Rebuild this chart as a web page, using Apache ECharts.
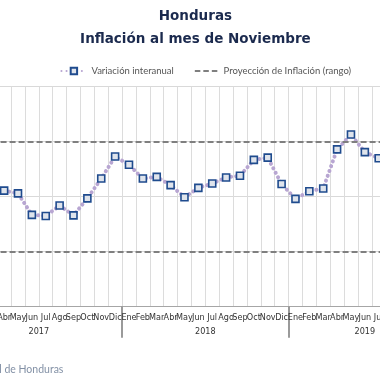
<!DOCTYPE html>
<html>
<head>
<meta charset="utf-8">
<script src="https://cdn.jsdelivr.net/npm/echarts@6/dist/echarts.min.js"></script>
<style>html,body{margin:0;padding:0;background:#fff;overflow:hidden;width:380px;height:380px}#c{width:493px;height:380px;margin-left:-48.4px}</style>
</head>
<body>
<div id="c"></div>
<script>
// Categories (months) and years
const months2017 = ['Ene','Feb','Mar','Abr','May','Jun','Jul','Ago','Sep','Oct','Nov','Dic'];
const months2018 = ['Ene','Feb','Mar','Abr','May','Jun','Jul','Ago','Sep','Oct','Nov','Dic'];
const months2019 = ['Ene','Feb','Mar','Abr','May','Jun','Jul','Ago','Sep','Oct','Nov'];
const years = ['2017','2018','2019'];
const yearCenters = [6, 18, 29.5];
const yearBreaks = [12, 24];

// Variación interanual (%), values outside the visible part left as null
const var2017 = [null, null, null, 4.11, 4.06, 3.67, 3.65, 3.84, 3.66, 3.97, 4.33, 4.73];
const var2018 = [4.58, 4.33, 4.36, 4.21, 3.99, 4.16, 4.24, 4.35, 4.38, 4.67, 4.71, 4.23];
const var2019 = [3.96, 4.10, 4.15, 4.86, 5.13, 4.81, 4.70, null, null, null, null];

// Proyección de inflación (rango)
const projRange = [3, 5];

const categories = months2017.concat(months2018, months2019);
const variacion = var2017.concat(var2018, var2019);
const font = 'Lato';
const tickFont = "'Liberation Sans Narrow', 'DejaVu Sans Condensed', sans-serif";
const dashedIcon = 'path://M0,0h0.01v0.01h-0.01z M0,3.1h5.5v1.8h-5.5z M8.5,3.1h5.5v1.8h-5.5z M17,3.1h5.5v1.8h-5.5z M22.49,7.99h0.01v0.01h-0.01z';

const chart = echarts.init(document.getElementById('c'), null, {renderer: 'canvas'});
chart.setOption({
  animation: false,
  textStyle: {fontFamily: font},
  title: [{
    text: 'Honduras\nInflación al mes de Noviembre',
    left: 238.4, top: 0, textAlign: 'center',
    textStyle: {fontFamily: 'DejaVu Sans', fontSize: 13.5, fontWeight: 'bold', color: '#1b2a4e', lineHeight: 23}
  }, {
    text: 'Fuente: Banco Central de Honduras',
    right: 376.6, top: 359,
    textStyle: {fontFamily: font, fontSize: 10.5, fontWeight: 'normal', color: '#8391a6'}
  }],
  legend: {
    left: 108.4, top: 66, padding: 0,
    itemWidth: 25, itemHeight: 8, itemGap: 21,
    textStyle: {fontFamily: font, fontSize: 9.5, color: '#555'},
    data: ['Variación interanual', {name: 'Proyección de Inflación (rango)', icon: dashedIcon, itemStyle: {color: '#7f7f7f'}}]
  },
  grid: {left: 0, right: 0, top: 86.7, bottom: 73.3, containLabel: false},
  xAxis: [{
    type: 'category',
    data: categories,
    boundaryGap: true,
    axisLine: {show: true, lineStyle: {color: '#a6a6a6', width: 1}},
    axisTick: {show: false},
    splitLine: {show: true, interval: 0, lineStyle: {color: '#dcdcdc', width: 1}},
    axisLabel: {interval: 0, fontSize: 9, color: '#333', margin: 6, fontFamily: tickFont}
  }, {
    type: 'value',
    position: 'bottom',
    min: 0, max: 35,
    axisLine: {show: false},
    splitLine: {show: false},
    axisTick: {show: true, customValues: yearBreaks, length: 31, lineStyle: {color: '#7a7a7a', width: 1.5}},
    axisLabel: {
      show: true, customValues: yearCenters, fontSize: 9, color: '#333', margin: 20, fontFamily: tickFont,
      formatter: function (v) { const i = yearCenters.indexOf(v); return i >= 0 ? years[i] : ''; }
    }
  }],
  yAxis: {
    type: 'value', min: 2, max: 6, interval: 1,
    axisLine: {show: false}, axisTick: {show: false}, axisLabel: {show: false},
    splitLine: {show: true, lineStyle: {color: '#d9d9d9', width: 1}}
  },
  series: [{
    name: 'Proyección de Inflación (rango)',
    type: 'line',
    data: [],
    symbol: 'none',
    itemStyle: {color: '#7f7f7f'},
    lineStyle: {color: '#7f7f7f', width: 2, type: [6, 3]},
    markLine: {
      silent: true, symbol: 'none', label: {show: false},
      lineStyle: {color: '#7f7f7f', width: 2, type: [6, 3]},
      data: projRange.map(v => ({yAxis: v}))
    },
    z: 1
  }, {
    name: 'Variación interanual',
    type: 'line',
    data: variacion,
    symbol: 'rect',
    symbolSize: 7,
    showAllSymbol: true,
    itemStyle: {color: '#dfe4ec', borderColor: '#1f4b8e', borderWidth: 1.6},
    lineStyle: {color: '#b8a6d2', width: 4, type: [0.1, 5], cap: 'round'},
    z: 3
  }]
});
</script>
</body>
</html>
